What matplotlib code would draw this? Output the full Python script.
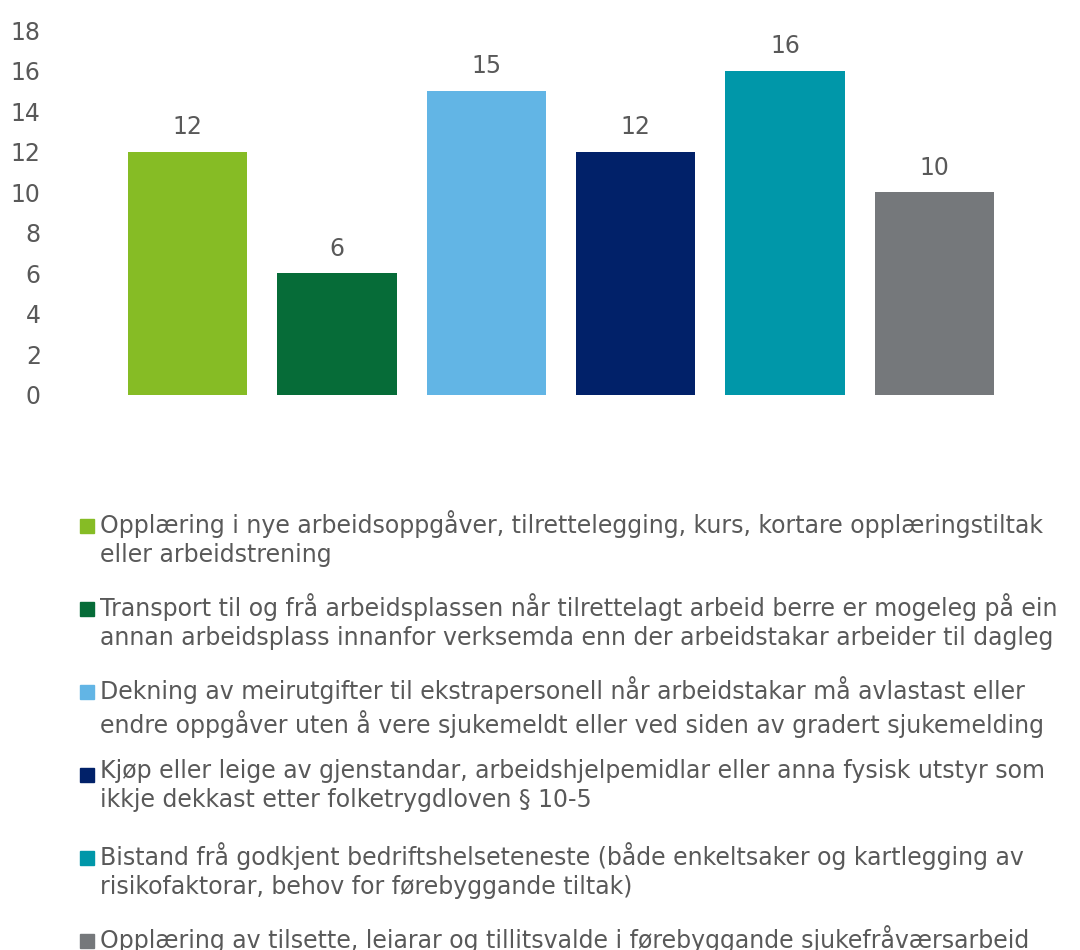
import matplotlib.pyplot as plt
from matplotlib.patches import Rectangle

categories = [
    "Opplæring i nye arbeidsoppgåver, tilrettelegging, kurs, kortare opplæringstiltak\neller arbeidstrening",
    "Transport til og frå arbeidsplassen når tilrettelagt arbeid berre er mogeleg på ein\nannan arbeidsplass innanfor verksemda enn der arbeidstakar arbeider til dagleg",
    "Dekning av meirutgifter til ekstrapersonell når arbeidstakar må avlastast eller\nendre oppgåver uten å vere sjukemeldt eller ved siden av gradert sjukemelding",
    "Kjøp eller leige av gjenstandar, arbeidshjelpemidlar eller anna fysisk utstyr som\nikkje dekkast etter folketrygdloven § 10-5",
    "Bistand frå godkjent bedriftshelseteneste (både enkeltsaker og kartlegging av\nrisikofaktorar, behov for førebyggande tiltak)",
    "Opplæring av tilsette, leiarar og tillitsvalde i førebyggande sjukefråværsarbeid",
]
values = [12, 6, 15, 12, 16, 10]
colors = ["#86BC25", "#066C38", "#62B5E5", "#012169", "#0097A9", "#75787B"]
yticks = list(range(0, 19, 2))

text_color = "#595959"
plt.rcParams['font.family'] = ['DejaVu Sans']

fig = plt.figure(figsize=(10.8, 9.5), dpi=100)
ax = fig.add_axes([113/1080, 555/950, 896/1080, 365/950])

x = range(len(values))
bars = ax.bar(x, values, width=0.8, color=colors)
ax.bar_label(bars, padding=9, fontsize=17, color=text_color)

ax.set_xlim(-0.5, len(values) - 0.5)
ax.set_ylim(0, 18)
ax.set_yticks(yticks)
ax.set_xticks([])
ax.tick_params(axis='y', length=0, pad=52, labelsize=17, labelcolor=text_color)
for s in ax.spines.values():
    s.set_visible(False)

# legend, drawn by hand so the square sits on the first line
y0 = 533  # baseline of first line of first entry, px from top
step = 83
for i, (lab, col) in enumerate(zip(categories, colors)):
    yb = y0 + i * step
    fig.patches.append(Rectangle((80/1080, 1 - yb/950), 14/1080, 14/950,
                                 transform=fig.transFigure, color=col))
    fig.text(100/1080, 1 - (yb - 23)/950, lab, fontsize=17, color=text_color,
             va='top', ha='left', linespacing=1.26)

fig.savefig("out.png", dpi=100)
